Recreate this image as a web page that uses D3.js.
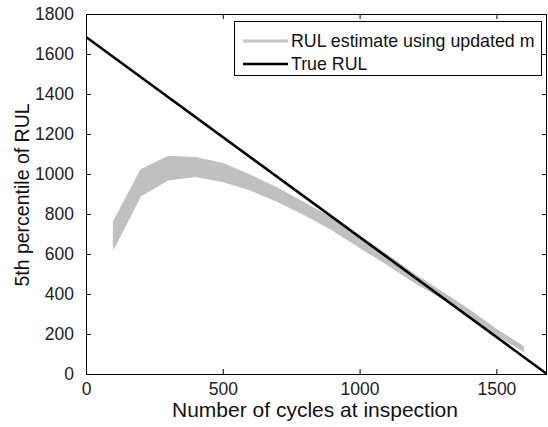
<!DOCTYPE html>
<html>
<head>
<meta charset="utf-8">
<script src="https://cdn.jsdelivr.net/npm/d3@7"></script>
<style>
  html, body { margin: 0; padding: 0; background: #fff; }
  svg { display: block; font-family: "Liberation Sans", Arial, sans-serif; }
</style>
</head>
<body>
<svg id="chart" width="548" height="427"></svg>
<script>
// Inspection cycles and the spread of the 5th-percentile RUL estimate
const cycles = [100, 200, 300, 400, 500, 600, 700, 800, 900, 1000, 1100, 1200, 1300, 1400, 1500, 1600];
const estimateLow  = [623, 890, 970, 987, 962, 920, 862, 795, 720, 632, 548, 458, 378, 292, 196, 112];
const estimateHigh = [761, 1022, 1088, 1083, 1053, 995, 930, 855, 778, 688, 598, 500, 412, 322, 224, 137];

// True remaining useful life: straight line to end of life
const lifeCycles = [0, 1685];
const trueRUL = [1685, 0];

const xTicks = [0, 500, 1000, 1500];
const yTicks = [0, 200, 400, 600, 800, 1000, 1200, 1400, 1600, 1800];

const legendLabels = ["RUL estimate using updated m", "True RUL"];

const svg = d3.select("#chart");
const m = { left: 86, right: 547, top: 14, bottom: 374 };

const x = d3.scaleLinear().domain([0, 1685]).range([m.left, m.right]);
const y = d3.scaleLinear().domain([0, 1800]).range([m.bottom, m.top]);

svg.append("defs").append("clipPath").attr("id", "plotClip")
  .append("rect").attr("x", m.left).attr("y", m.top)
  .attr("width", m.right - m.left).attr("height", m.bottom - m.top);

const plot = svg.append("g").attr("clip-path", "url(#plotClip)");

// Estimate band
const band = cycles.map((c, i) => ({ c, lo: estimateLow[i], hi: estimateHigh[i] }));
plot.append("path")
  .datum(band)
  .attr("fill", "#c0c0c0")
  .attr("stroke", "#c0c0c0")
  .attr("stroke-width", 1)
  .attr("d", d3.area().x(d => x(d.c)).y0(d => y(d.lo)).y1(d => y(d.hi)));

// True RUL line
plot.append("path")
  .datum(lifeCycles.map((c, i) => [c, trueRUL[i]]))
  .attr("fill", "none")
  .attr("stroke", "#000")
  .attr("stroke-width", 2.6)
  .attr("d", d3.line().x(d => x(d[0])).y(d => y(d[1])));

// Axes with inward ticks on all four sides
const tickLen = 5;
const fmt = d3.format("d");
const axisBottom = d3.axisBottom(x).tickValues(xTicks).tickFormat(fmt).tickSizeInner(-tickLen).tickSizeOuter(0).tickPadding(9);
const axisTop = d3.axisTop(x).tickValues(xTicks).tickSizeInner(-tickLen).tickSizeOuter(0).tickFormat("");
const axisLeft = d3.axisLeft(y).tickValues(yTicks).tickFormat(fmt).tickSizeInner(-tickLen).tickSizeOuter(0).tickPadding(12);
const axisRight = d3.axisRight(y).tickValues(yTicks).tickSizeInner(-tickLen).tickSizeOuter(0).tickFormat("");

function styleAxis(g) {
  g.select(".domain").remove();
  g.selectAll("line").attr("stroke", "#000").attr("stroke-width", 1);
  g.selectAll("text").attr("fill", "#222").style("font-size", "17.5px")
    .style("font-family", "'Liberation Sans', Arial, sans-serif");
}

svg.append("g").attr("transform", `translate(0,${m.bottom})`).call(axisBottom).call(styleAxis);
svg.append("g").attr("transform", `translate(0,${m.top})`).call(axisTop).call(styleAxis);
svg.append("g").attr("transform", `translate(${m.left},0)`).call(axisLeft).call(styleAxis);
svg.append("g").attr("transform", `translate(${m.right},0)`).call(axisRight).call(styleAxis);

// Plot frame
svg.append("rect")
  .attr("x", m.left + 0.5).attr("y", m.top + 0.5)
  .attr("width", m.right - m.left - 1).attr("height", m.bottom - m.top)
  .attr("fill", "none").attr("stroke", "#000").attr("stroke-width", 1);

// Axis titles
svg.append("text")
  .attr("x", 315).attr("y", 417)
  .attr("text-anchor", "middle")
  .style("font-size", "21px").attr("fill", "#111")
  .text("Number of cycles at inspection");

svg.append("text")
  .attr("transform", `translate(29,195) rotate(-90)`)
  .attr("text-anchor", "middle")
  .style("font-size", "19.5px").attr("fill", "#111")
  .text("5th percentile of RUL");

// Legend
const lg = svg.append("g");
lg.append("rect")
  .attr("x", 234.5).attr("y", 21.5).attr("width", 307).attr("height", 54)
  .attr("fill", "#fff").attr("stroke", "#000").attr("stroke-width", 1);
const legendStyles = [
  { color: "#c4c4c4", width: 3 },
  { color: "#000", width: 2.6 }
];
legendLabels.forEach((label, i) => {
  const ly = 41 + i * 23;
  lg.append("line").attr("x1", 243).attr("x2", 288).attr("y1", ly).attr("y2", ly)
    .attr("stroke", legendStyles[i].color).attr("stroke-width", legendStyles[i].width);
  lg.append("text").attr("x", 291).attr("y", ly).attr("dy", "0.35em")
    .style("font-size", "17.8px").attr("fill", "#111").text(label);
});
</script>
</body>
</html>
